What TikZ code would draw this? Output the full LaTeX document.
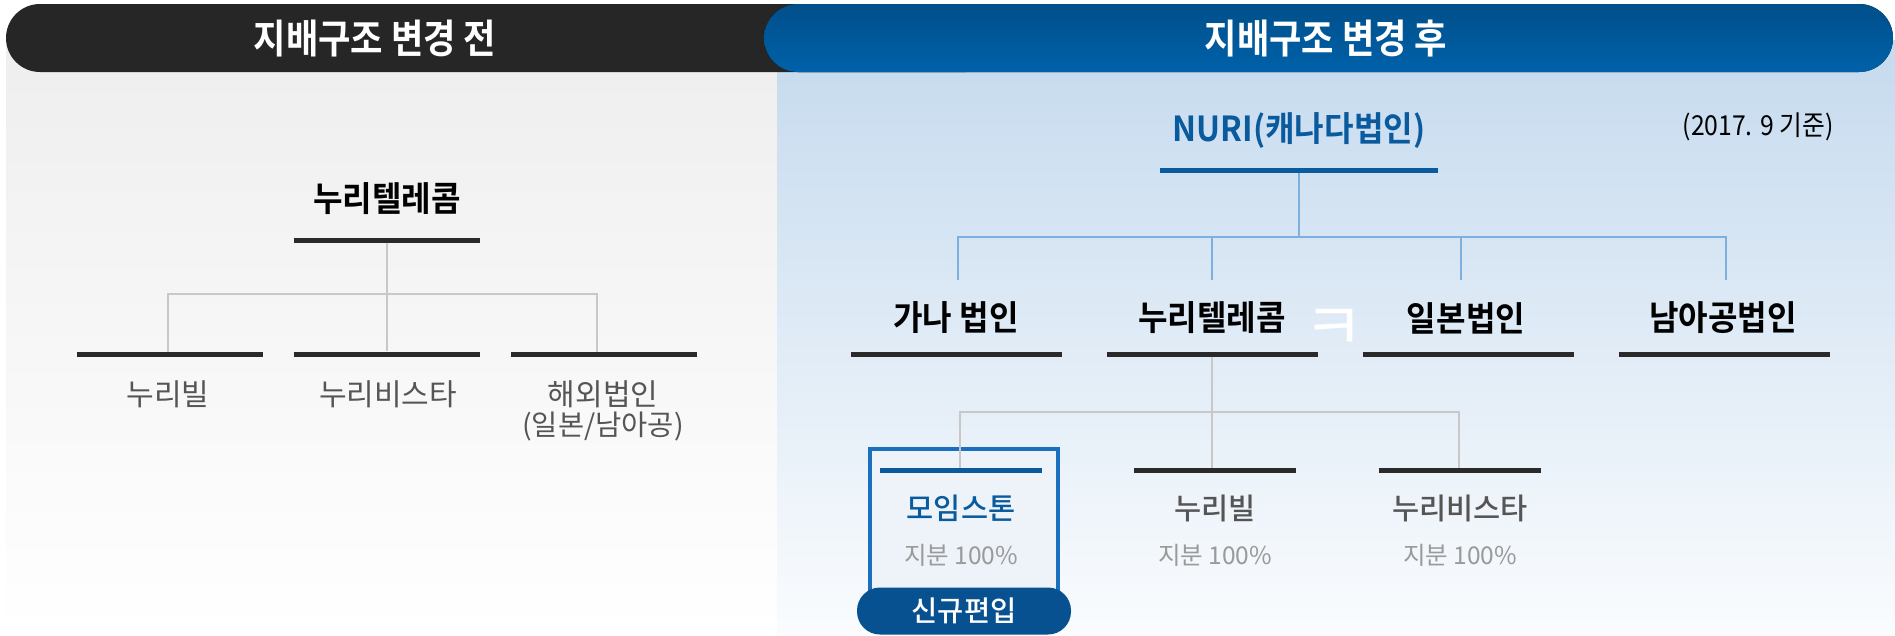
\documentclass[tikz,border=0pt]{standalone}
\usepackage{fontspec}
\setmainfont{Noto Sans CJK KR}
\newfontfamily\krR{Noto Sans CJK KR}
\newfontfamily\krRc{Noto Sans CJK KR}[FakeStretch=0.9]
\newfontfamily\krM{Noto Sans CJK KR Medium}
\newfontfamily\krB{Noto Sans CJK KR Bold}[FakeStretch=0.93]
\newfontfamily\krT{Noto Sans CJK KR Bold}[FakeStretch=0.88]
\definecolor{darkhead}{HTML}{262626}
\definecolor{blueheadtop}{HTML}{004F8A}
\definecolor{blueheadbot}{HTML}{0061A9}
\definecolor{bggray}{HTML}{EEEEEE}
\definecolor{bgbluetop}{HTML}{C5DAEE}
\definecolor{bgbluebot}{HTML}{FAFCFE}
\definecolor{darkline}{HTML}{2A2A2A}
\definecolor{conngray}{HTML}{C8C8C8}
\definecolor{connblue}{HTML}{7DB0DF}
\definecolor{nuriblue}{HTML}{0A5A9E}
\definecolor{boxblue}{HTML}{1A6FBE}
\definecolor{boxfill}{HTML}{EEF3FA}
\definecolor{pillblue}{HTML}{085190}
\definecolor{labgray}{HTML}{555555}
\definecolor{pctgray}{HTML}{9A9A9A}
\tikzset{
  titletext/.style={text=white, inner sep=0pt, font={\krT\fontsize{40}{48}\selectfont}},
  boldlab/.style={text=black, inner sep=0pt, font={\krB\fontsize{34.5}{41}\selectfont}},
  reglab/.style={text=labgray, inner sep=0pt, font={\krR\fontsize{30}{36}\selectfont}},
  medlab/.style={text=labgray, inner sep=0pt, font={\krM\fontsize{29.5}{35}\selectfont}},
  pctlab/.style={text=pctgray, inner sep=0pt, font={\krR\fontsize{24.5}{29}\selectfont}},
  hbar/.style={rectangle, fill=#1, draw=none, inner sep=0pt, minimum height=5pt},
  hbar/.default=darkline,
  barL/.style={hbar, minimum width=186pt},
  barR/.style={hbar, minimum width=211pt},
  barS/.style={hbar=#1, minimum width=162pt},
  barS/.default=darkline,
  conn/.style={draw=conngray, line width=1.3pt},
  bconn/.style={draw=connblue, line width=1.3pt},
}
\begin{document}
\begin{tikzpicture}[x=1pt,y=-1pt]
\useasboundingbox (0,0) rectangle (1895,635);
% backgrounds
\fill[top color=bggray, bottom color=white] (6,40) rectangle (777,635);
\fill[top color=bgbluetop, bottom color=bgbluebot] (777,40) rectangle (1895,635);
% header bars
\fill[darkhead, rounded corners=34pt] (6,4) rectangle (1000,72);
\fill[top color=blueheadtop, bottom color=blueheadbot, rounded corners=34pt] (764,4) rectangle (1893,72);
\node[titletext] (hleft) at (375,39) {지배구조 변경 전};
\node[titletext] (hright) at (1326,39) {지배구조 변경 후};

% ---------- left tree ----------
\node[boldlab] (lroot) at (387,199) {누리텔레콤};
\node[barL] (lrootbar) at (387,240) {};
\node[barL] (lb1) at (170,354) {};
\node[barL] (lb2) at (387,354) {};
\node[barL] (lb3) at (604,354) {};
\coordinate (ljunc) at (387,294);
\coordinate (ld1) at (168,352);
\coordinate (ld3) at (597,352);
\draw[conn] (lrootbar.south) -- (lb2.north);
\draw[conn] (ld1) |- (ljunc) -| (ld3);
\node[reglab] (l1) at (168,394) {누리빌};
\node[reglab] (l2) at (388,394) {누리비스타};
\node[reglab] (l3) at (603,394) {해외법인};
\node[reglab, font={\krR\fontsize{28.5}{34}\selectfont}] (l3b) at (603,427) {(일본/남아공)};

% ---------- right tree ----------
\node[text=nuriblue, inner sep=0pt, font={\krB\fontsize{34.5}{41}\selectfont}] (nuri) at (1299,131) {NURI(캐나다법인)};
\node[text=black, inner sep=0pt, font={\krRc\fontsize{27.5}{33}\selectfont}] (date) at (1758,127) {(2017. 9 기준)};
\node[hbar=nuriblue, minimum width=278pt] (nuribar) at (1299,170) {};
\coordinate (rjunc) at (1299,237);
\coordinate (d2a) at (958,280);
\coordinate (d2b) at (1212,280);
\coordinate (d2c) at (1461,280);
\coordinate (d2d) at (1726,280);
\draw[bconn] (nuribar.south) -- (rjunc);
\draw[bconn] (d2a) |- (rjunc) -| (d2d);
\draw[bconn] (rjunc) -| (d2b);
\draw[bconn] (rjunc) -| (d2c);

\node[boldlab] (r1) at (956,318) {가나 법인};
\node[boldlab] (r2) at (1212,318) {누리텔레콤};
\node[boldlab] (r3) at (1466,318) {일본법인};
\node[boldlab] (r4) at (1723,318) {남아공법인};
\node[text=white, inner sep=0pt, font={\krR\fontsize{66}{78}\selectfont}] (kk) at (1334,330) {ㅋ};
\node[barR] (rb1) at (956,354) {};
\node[barR] (rb2) at (1212,354) {};
\node[barR] (rb3) at (1468,354) {};
\node[barR] (rb4) at (1724,354) {};

% new entity box
\node[draw=boxblue, line width=4pt, fill=boxfill, minimum width=188pt, minimum height=151pt, inner sep=0pt] (mbox) at (964,524.5) {};
\node[barS=nuriblue] (sb1) at (961,470) {};
\node[barS] (sb2) at (1215,470) {};
\node[barS] (sb3) at (1460,470) {};
\coordinate (sjunc) at (1212,412);
\coordinate (sd1) at (960,468);
\coordinate (sd2) at (1212,468);
\coordinate (sd3) at (1459,468);
\draw[conn] (rb2.south) -- (sd2);
\draw[conn] (sd1) |- (sjunc) -| (sd3);

\node[medlab, text=nuriblue] (s1) at (961,508) {모임스톤};
\node[pctlab] (p1) at (961,555) {지분 100\%};
\node[medlab] (s2) at (1215,508) {누리빌};
\node[pctlab] (p2) at (1215,555) {지분 100\%};
\node[medlab] (s3) at (1460,508) {누리비스타};
\node[pctlab] (p3) at (1460,555) {지분 100\%};

\node[fill=pillblue, rounded corners=23pt, minimum width=214pt, minimum height=47pt, inner sep=0pt, text=white, font={\krM\fontsize{28.5}{34}\selectfont}] (pill) at (964,611) {신규편입};
\end{tikzpicture}
\end{document}
